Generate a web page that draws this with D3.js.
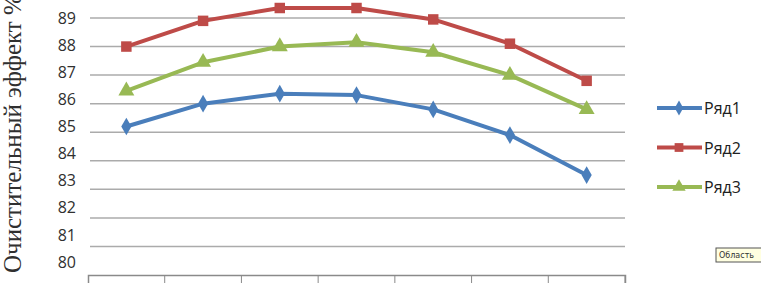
<!DOCTYPE html>
<html>
<head>
<meta charset="utf-8">
<script src="https://cdn.jsdelivr.net/npm/d3@7"></script>
<style>
  body { margin: 0; background: #fff; }
</style>
</head>
<body>
<div id="chart"></div>
<script>
// data
var categories = [1, 2, 3, 4, 5, 6, 7];
var series1 = [85.2, 86.0, 86.35, 86.3, 85.8, 84.9, 83.5];
var series2 = [88.0, 88.9, 89.35, 89.35, 88.95, 88.1, 86.8];
var series3 = [86.45, 87.45, 88.0, 88.15, 87.8, 87.0, 85.8];
var seriesNames = ["Ряд1", "Ряд2", "Ряд3"];
var yTicks = [80, 81, 82, 83, 84, 85, 86, 87, 88, 89];

var svgWidth = 761;
var svgHeight = 283;

var svg = d3.select("#chart")
    .append("svg")
    .attr("width", svgWidth)
    .attr("height", svgHeight);

var x = d3.scaleBand()
    .domain(categories)
    .range([88, 625]);

var y = d3.scaleLinear()
    .domain([80, 89])
    .range([275, 18]);

// labels sit a bit higher than the grid in the original
var yLab = d3.scaleLinear()
    .domain([80, 89])
    .range([262, 18]);

// gridlines
svg.append("g")
    .selectAll("line")
    .data(yTicks.slice(1))
    .enter()
    .append("line")
    .attr("x1", 90)
    .attr("x2", 625)
    .attr("y1", d => y(d))
    .attr("y2", d => y(d))
    .style("stroke", "#ababab")
    .style("stroke-width", 1.5);

// bottom axis
var xAxis = svg.append("g")
    .attr("transform", "translate(0," + y(80) + ")")
    .call(d3.axisBottom(x).tickFormat("").tickSize(8).tickSizeOuter(8));
xAxis.select(".domain").style("stroke", "#8a8a8a").style("stroke-width", 1.5);
// band axis puts ticks at centers; move them to band edges
xAxis.selectAll(".tick").remove();
xAxis.selectAll(".edge")
    .data(categories.slice(1).concat(["end"]))
    .enter()
    .append("line")
    .attr("x1", d => d === "end" ? x.range()[1] : x(d))
    .attr("x2", d => d === "end" ? x.range()[1] : x(d))
    .attr("y1", 0)
    .attr("y2", 8)
    .style("stroke", "#8a8a8a");

// y tick labels
var yAxis = svg.append("g")
    .attr("transform", "translate(76,0)")
    .call(d3.axisLeft(yLab).tickValues(yTicks).tickSize(0).tickPadding(0));
yAxis.select(".domain").remove();
yAxis.selectAll("text")
    .style("font-family", "'Open Sans', sans-serif")
    .style("font-size", "16px")
    .style("fill", "#303030");

// y title
svg.append("text")
    .attr("transform", "translate(21,273) rotate(-90)")
    .text("Очистительный эффект %")
    .style("font-family", "'Liberation Serif', serif")
    .style("font-size", "25px")
    .style("fill", "#303030");

var colors = ["#4a7ebb", "#be4b48", "#98b954"];
var allSeries = [series1, series2, series3];
var symbols = [d3.symbolDiamond, d3.symbolSquare, d3.symbolTriangle];
var symSize = [90, 110, 110];

var line = d3.line()
    .x((d, i) => x(categories[i]) + x.bandwidth() / 2)
    .y(d => y(d));

allSeries.forEach(function (s, k) {
    svg.append("path")
        .datum(s)
        .attr("d", line)
        .style("fill", "none")
        .style("stroke", colors[k])
        .style("stroke-width", 4)
        .style("stroke-linejoin", "round");
    svg.append("g")
        .selectAll("path")
        .data(s)
        .enter()
        .append("path")
        .attr("d", d3.symbol().type(symbols[k]).size(symSize[k]))
        .attr("transform", (d, i) => "translate(" + (x(categories[i]) + x.bandwidth() / 2) + "," + y(d) + ")")
        .style("fill", colors[k]);
});

// legend
var legend = svg.append("g")
    .selectAll("g")
    .data(seriesNames)
    .enter()
    .append("g")
    .attr("transform", (d, i) => "translate(657," + (108 + i * 39.5) + ")");
legend.append("line")
    .attr("x1", 0).attr("x2", 45)
    .style("stroke", (d, i) => colors[i])
    .style("stroke-width", 4);
legend.append("path")
    .attr("d", (d, i) => d3.symbol().type(symbols[i]).size(symSize[i] * 0.7)())
    .attr("transform", "translate(22,0)")
    .style("fill", (d, i) => colors[i]);
legend.append("text")
    .attr("x", 47)
    .attr("y", 6)
    .text(d => d)
    .style("font-family", "'Open Sans', sans-serif")
    .style("font-size", "16px")
    .style("fill", "#202020");

// tooltip box
var tip = svg.append("g").attr("transform", "translate(716,248)");
tip.append("rect")
    .attr("width", 46).attr("height", 14)
    .style("fill", "#ffffe1")
    .style("stroke", "#555");
tip.append("text")
    .attr("x", 3).attr("y", 10)
    .text("Область")
    .style("font-family", "'DejaVu Sans', sans-serif")
    .style("font-size", "8px")
    .style("fill", "#333");
</script>
</body>
</html>
